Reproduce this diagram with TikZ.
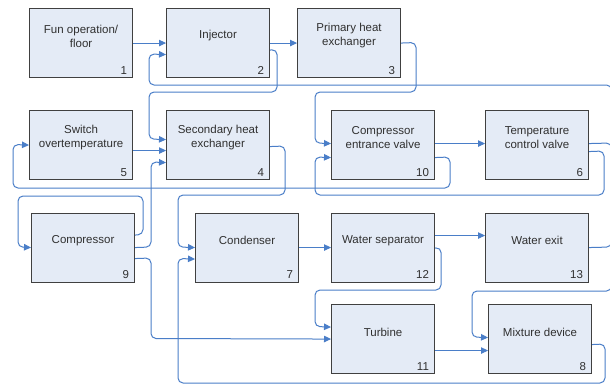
\documentclass[tikz,border=0pt]{standalone}
\usepackage{fontspec}
\setmainfont{Liberation Sans}
\usetikzlibrary{arrows.meta,calc}
\definecolor{boxfill}{HTML}{E4EBF6}
\definecolor{boxline}{HTML}{404040}
\definecolor{conn}{HTML}{4A7EC8}
\definecolor{txt}{HTML}{303030}
\begin{document}
\begin{tikzpicture}[x=1pt,y=-1pt,
  box/.style={draw=boxline, fill=boxfill, line width=1.1pt, minimum width=103pt, minimum height=69pt, anchor=north west, inner sep=0pt},
  lbl/.style={text=txt, font=\fontsize{11.5}{14}\selectfont, align=center, inner sep=0pt},
  num/.style={text=txt, font=\fontsize{11.5}{14}\selectfont, anchor=east, inner sep=0pt},
  flow/.style={draw=conn, line width=1pt, rounded corners=5pt, -{Triangle[length=7pt,width=6.5pt]}}]
\useasboundingbox (0,0) rectangle (610,386);
\fill[white] (0,0) rectangle (610,386);

% boxes
\node[box] (b1) at (29,8) {};
\node[box] (b2) at (166,8) {};
\node[box] (b3) at (297,8) {};
\node[box] (b5) at (29,110) {};
\node[box] (b4) at (166,110) {};
\node[box] (b10) at (331,110) {};
\node[box] (b6) at (485,110) {};
\node[box] (b9) at (31,212.5) {};
\node[box] (b7) at (195,212.5) {};
\node[box] (b12) at (331,212.5) {};
\node[box] (b13) at (485,212.5) {};
\node[box] (b11) at (331,304) {};
\node[box] (b8) at (488,304) {};

% labels
\node[lbl] (t1) at ($(b1.north)+(0,28)$) {Fun operation/\\floor};
\node[lbl] (t2) at ($(b2.north)+(0,28)$) {Injector};
\node[lbl] (t3) at ($(b3.north)+(0,28)$) {Primary heat\\exchanger};
\node[lbl] (t5) at ($(b5.north)+(0,28)$) {Switch\\overtemperature};
\node[lbl] (t4) at ($(b4.north)+(0,28)$) {Secondary heat\\exchanger};
\node[lbl] (t10) at ($(b10.north)+(0,28)$) {Compressor\\entrance valve};
\node[lbl] (t6) at ($(b6.north)+(0,28)$) {Temperature\\control valve};
\node[lbl] (t9) at ($(b9.north)+(0,28)$) {Compressor};
\node[lbl] (t7) at ($(b7.north)+(0,28)$) {Condenser};
\node[lbl] (t12) at ($(b12.north)+(0,28)$) {Water separator};
\node[lbl] (t13) at ($(b13.north)+(0,28)$) {Water exit};
\node[lbl] (t11) at ($(b11.north)+(0,28)$) {Turbine};
\node[lbl] (t8) at ($(b8.north)+(0,28)$) {Mixture device};

% numbers
\node[num] (n1) at ($(b1.south east)+(-6,-8)$) {1};
\node[num] (n2) at ($(b2.south east)+(-6,-8)$) {2};
\node[num] (n3) at ($(b3.south east)+(-6,-8)$) {3};
\node[num] (n5) at ($(b5.south east)+(-6,-8)$) {5};
\node[num] (n4) at ($(b4.south east)+(-6,-8)$) {4};
\node[num] (n10) at ($(b10.south east)+(-6,-8)$) {10};
\node[num] (n6) at ($(b6.south east)+(-6,-8)$) {6};
\node[num] (n9) at ($(b9.south east)+(-6,-8)$) {9};
\node[num] (n7) at ($(b7.south east)+(-6,-8)$) {7};
\node[num] (n12) at ($(b12.south east)+(-6,-8)$) {12};
\node[num] (n13) at ($(b13.south east)+(-6,-8)$) {13};
\node[num] (n11) at ($(b11.south east)+(-6,-8)$) {11};
\node[num] (n8) at ($(b8.south east)+(-6,-8)$) {8};

% connectors
\draw[flow] (b1.east) -- (b2.west);
\draw[flow] (b2.east) -- (b3.west);
\draw[flow] ($(b2.east)+(0,7)$) -- (277,49.5) -- (277,92) -- (149,92) -- (149,139) -- ($(b4.west)+(0,-5.5)$);
\draw[flow] (b13.east) -- (611.5,247) -- (611.5,85) -- (149,85) -- (149,54) -- ($(b2.west)+(0,11.5)$);
\draw[flow] (b3.east) -- (416,42.5) -- (416,92) -- (315,92) -- (315,143) -- ($(b10.west)+(0,-1.5)$);
\draw[flow] ($(b10.east)+(0,-1.5)$) -- ($(b6.west)+(0,-1.5)$);
\draw[flow] ($(b6.east)+(0,6.5)$) -- (604,151) -- (604,195) -- (315,195) -- (315,157) -- ($(b10.west)+(0,12.5)$);
\draw[flow] ($(b6.east)+(0,-1.5)$) -- (611.5,143) -- (611.5,291) -- (472,291) -- (472,337) -- ($(b8.west)+(0,-1.5)$);
\draw[flow] ($(b10.east)+(0,12.5)$) -- (450,157) -- (450,188) -- (13,188) -- (13,144.5) -- (b5.west);
\draw[flow] ($(b5.east)+(0,5.5)$) -- ($(b4.west)+(0,5.5)$);
\draw[flow] ($(b4.east)+(0,1.5)$) -- (285,146) -- (285,195) -- (178,195) -- (178,247) -- (b7.west);
\draw[flow] (b9.east) -- (151,247) -- (151,162) -- ($(b4.west)+(0,17.5)$);
\draw[flow] ($(b9.east)+(0,-12.5)$) -- (143,234.5) -- (143,196) -- (18,196) -- (18,247) -- (b9.west);
\draw[flow] ($(b9.east)+(0,11)$) -- (151,258) -- (151,338.5) -- (b11.west);
\draw[flow] (b7.east) -- (b12.west);
\draw[flow] ($(b12.east)+(0,-12)$) -- ($(b13.west)+(0,-12)$);
\draw[flow] ($(b12.east)+(0,0.5)$) -- (441,247.5) -- (441,290) -- (315,290) -- (315,326.5) -- ($(b11.west)+(0,-12)$);
\draw[flow] ($(b11.east)+(0,11.5)$) -- ($(b8.west)+(0,11.5)$);
\draw[flow] ($(b8.east)+(0,5.5)$) -- (605,344) -- (605,383) -- (178,383) -- (178,258.5) -- ($(b7.west)+(0,11.5)$);
\end{tikzpicture}
\end{document}
